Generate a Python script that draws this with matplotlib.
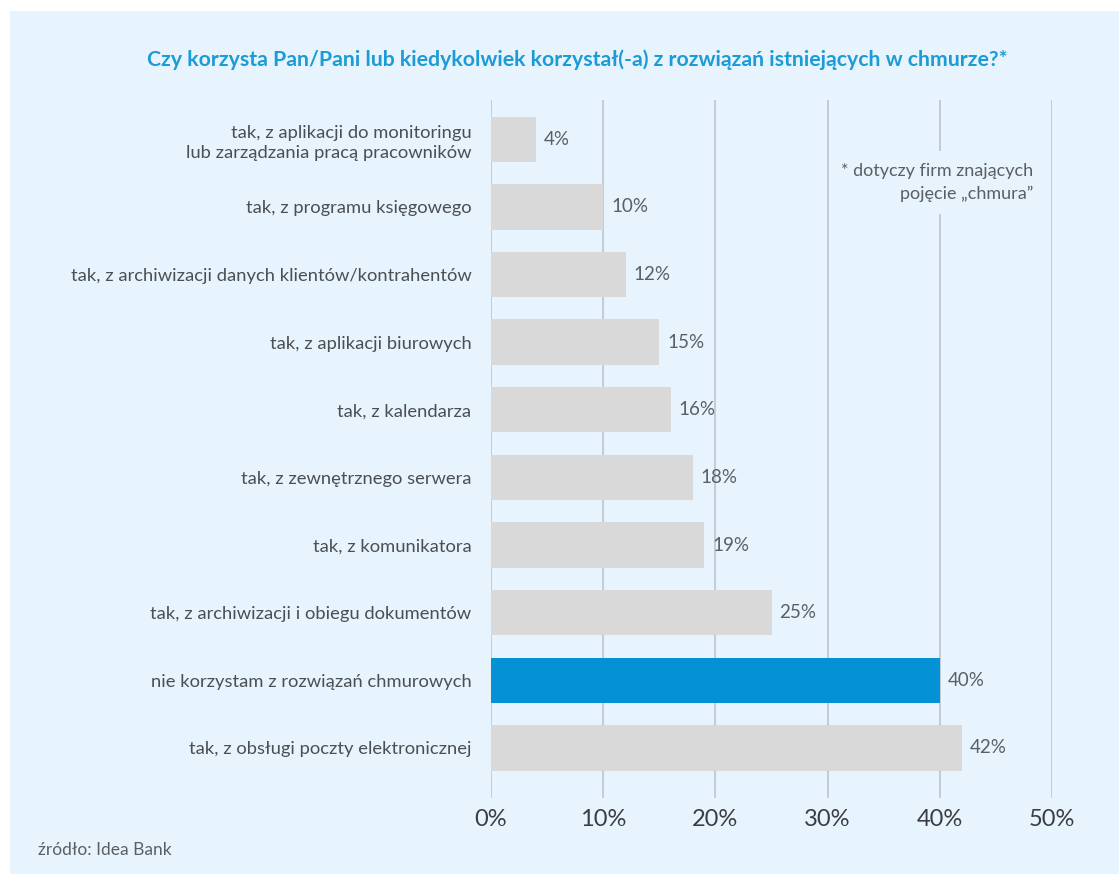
import matplotlib.pyplot as plt
from matplotlib.patches import Rectangle

categories = [
    'tak, z aplikacji do monitoringu\nlub zarządzania pracą pracowników',
    'tak, z programu księgowego',
    'tak, z archiwizacji danych klientów/kontrahentów',
    'tak, z aplikacji biurowych',
    'tak, z kalendarza',
    'tak, z zewnętrznego serwera',
    'tak, z komunikatora',
    'tak, z archiwizacji i obiegu dokumentów',
    'nie korzystam z rozwiązań chmurowych',
    'tak, z obsługi poczty elektronicznej',
]
values = [4, 10, 12, 15, 16, 18, 19, 25, 40, 42]
highlight = 'nie korzystam z rozwiązań chmurowych'
ticks = [0, 10, 20, 30, 40, 50]
tick_labels = ['0%', '10%', '20%', '30%', '40%', '50%']

title = 'Czy korzysta Pan/Pani lub kiedykolwiek korzystał(-a) z rozwiązań istniejących w chmurze?*'
note = '* dotyczy firm znających\npojęcie „chmura”'
source = 'źródło: Idea Bank'

bg = '#e8f4fd'
blue = '#0592d4'
grey = '#d9d9d9'
grid_c = '#bcc5cd'
text_c = '#5a5f63'

plt.rcParams['font.family'] = ['Lato', 'DejaVu Sans']

W, H = 1119, 874
fig = plt.figure(figsize=(W / 100, H / 100), dpi=100)
fig.patch.set_facecolor('white')
fig.add_artist(Rectangle((10 / W, 0), 1, 1 - 11 / H, transform=fig.transFigure,
                         facecolor=bg, edgecolor='none', zorder=-5))

left, right = 491 / W, 1052 / W
top, bottom = 1 - 100 / H, 1 - 798 / H
ax = fig.add_axes([left, bottom, right - left, top - bottom])
ax.set_facecolor('none')

pos = list(range(len(categories)))
colors = [blue if c == highlight else grey for c in categories]
ax.barh(pos, values, height=0.67, color=colors, zorder=2)

for x in ticks:
    ax.axvline(x, color=grid_c, lw=1.2, zorder=1)

for p, v in zip(pos, values):
    ax.text(v + 0.7, p, f'{v}%', va='center', ha='left', fontsize=13.5,
            color=text_c, zorder=3)

ax.set_xlim(0, 50)
ax.set_ylim(9.74, -0.58)
ax.set_yticks(pos)
ax.set_yticklabels(categories, fontsize=13.2, color='#4a4f53', linespacing=1.3)
ax.set_xticks(ticks)
ax.set_xticklabels(tick_labels, fontsize=17, color='#3a3e42')
ax.tick_params(axis='y', length=0, pad=14)
ax.tick_params(axis='x', length=0, pad=8)
for s in ax.spines.values():
    s.set_visible(False)

ax.text(48.3, 0.64, note, ha='right', va='center', fontsize=13,
        color=text_c, linespacing=1.55, zorder=4,
        bbox=dict(facecolor=bg, edgecolor='none', pad=8))

fig.text(577 / W, 1 - 60 / H, title, ha='center', va='center', fontsize=15.3,
         fontweight='bold', color='#1b9bd7')
fig.text(38 / W, 1 - 850 / H, source, ha='left', va='center', fontsize=12.5,
         color=text_c)

fig.savefig('out.png', dpi=100, facecolor=fig.get_facecolor())
